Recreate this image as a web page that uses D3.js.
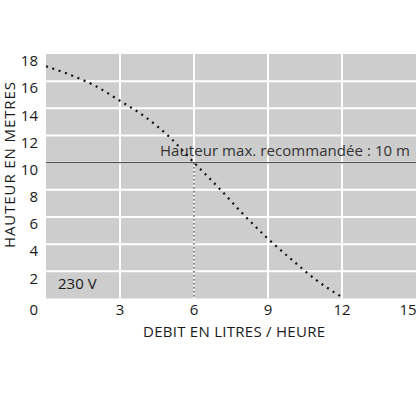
<!DOCTYPE html>
<html><head><meta charset="utf-8">
<script src="https://cdn.jsdelivr.net/npm/d3@7"></script>
<style>body{margin:0;background:#fff}text{font-family:"Open Sans",sans-serif;fill:#1a1a1a}</style>
</head><body><svg id="c" width="420" height="420"></svg>
<script>
const flowX = [0, 1, 2, 3, 4, 5, 6, 7, 8, 9, 10, 11, 12];
const headY = [17.1, 16.45, 15.65, 14.55, 13.4, 11.9, 10.0, 8.15, 6.2, 4.4, 2.8, 1.3, 0.1];
const xTicks = [3, 6, 9, 12, 15];
const yTicks = [0, 2, 4, 6, 8, 10, 12, 14, 16, 18];
const maxHead = 10;
const maxFlow = 6;
const xTitle = "DEBIT EN LITRES / HEURE";
const yTitle = "HAUTEUR EN METRES";
const maxLabel = "Hauteur max. recommandée : 10 m";
const voltLabel = "230 V";

const svg = d3.select("#c");
const x = d3.scaleLinear().domain([0, 15]).range([46, 416]);
const y = d3.scaleLinear().domain([0, 18]).range([298.5, 54]);

svg.append("rect").attr("x", x(0)).attr("y", y(18)).attr("width", x(15) - x(0)).attr("height", y(0) - y(18)).attr("fill", "#cdcdcd");

svg.append("g").selectAll("line").data(xTicks.filter(d => d < 15)).join("line")
  .attr("x1", d => x(d)).attr("x2", d => x(d)).attr("y1", y(18)).attr("y2", y(0))
  .attr("stroke", "#fff").attr("stroke-width", 2);
svg.append("g").selectAll("line").data(yTicks.filter(d => d > 0 && d < 18)).join("line")
  .attr("x1", x(0)).attr("x2", x(15)).attr("y1", d => y(d)).attr("y2", d => y(d))
  .attr("stroke", "#fff").attr("stroke-width", 2);

// vertical dashed line at 6
svg.append("line").attr("x1", x(maxFlow)).attr("x2", x(maxFlow)).attr("y1", y(maxHead)).attr("y2", y(0))
  .attr("stroke", "#333").attr("stroke-width", 1.1).attr("stroke-dasharray", "2 2");
// horizontal max line
svg.append("line").attr("x1", x(0)).attr("x2", x(15)).attr("y1", y(maxHead)).attr("y2", y(maxHead))
  .attr("stroke", "#555").attr("stroke-width", 1.4);

svg.append("text").attr("x", 410).attr("y", y(maxHead) - 6.5).attr("text-anchor", "end")
  .attr("font-size", 15).attr("textLength", 250).attr("lengthAdjust", "spacing")
  .style("fill", "#333").text(maxLabel);

// curve
const pts = flowX.map((v, i) => [v, headY[i]]);
svg.append("path").datum(pts)
  .attr("d", d3.line().x(d => x(d[0])).y(d => y(d[1])).curve(d3.curveMonotoneX))
  .attr("fill", "none").attr("stroke", "#111").attr("stroke-width", 2.2)
  .attr("stroke-dasharray", "2 4.7");

// y tick labels
svg.append("g").selectAll("text").data(yTicks).join("text")
  .attr("x", 38).attr("y", d => d === 0 ? 310 : y(d) + 7).attr("dy", "0.35em")
  .attr("text-anchor", "end").attr("font-size", 15).text(d => d);
// x tick labels
svg.append("g").selectAll("text").data(xTicks).join("text")
  .attr("x", d => d === 15 ? x(d) - 8 : x(d)).attr("y", 310).attr("dy", "0.35em")
  .attr("text-anchor", "middle").attr("font-size", 15).text(d => d);

svg.append("text").attr("x", 58).attr("y", 284).attr("dy", "0.35em").attr("font-size", 15).text(voltLabel);

svg.append("text").attr("x", 234).attr("y", 336.5).attr("text-anchor", "middle").attr("font-size", 15)
  .attr("textLength", 182).attr("lengthAdjust", "spacing").text(xTitle);
svg.append("text").attr("transform", "translate(15,165) rotate(-90)").attr("text-anchor", "middle").attr("font-size", 15)
  .attr("textLength", 166).attr("lengthAdjust", "spacing").text(yTitle);
</script></body></html>
